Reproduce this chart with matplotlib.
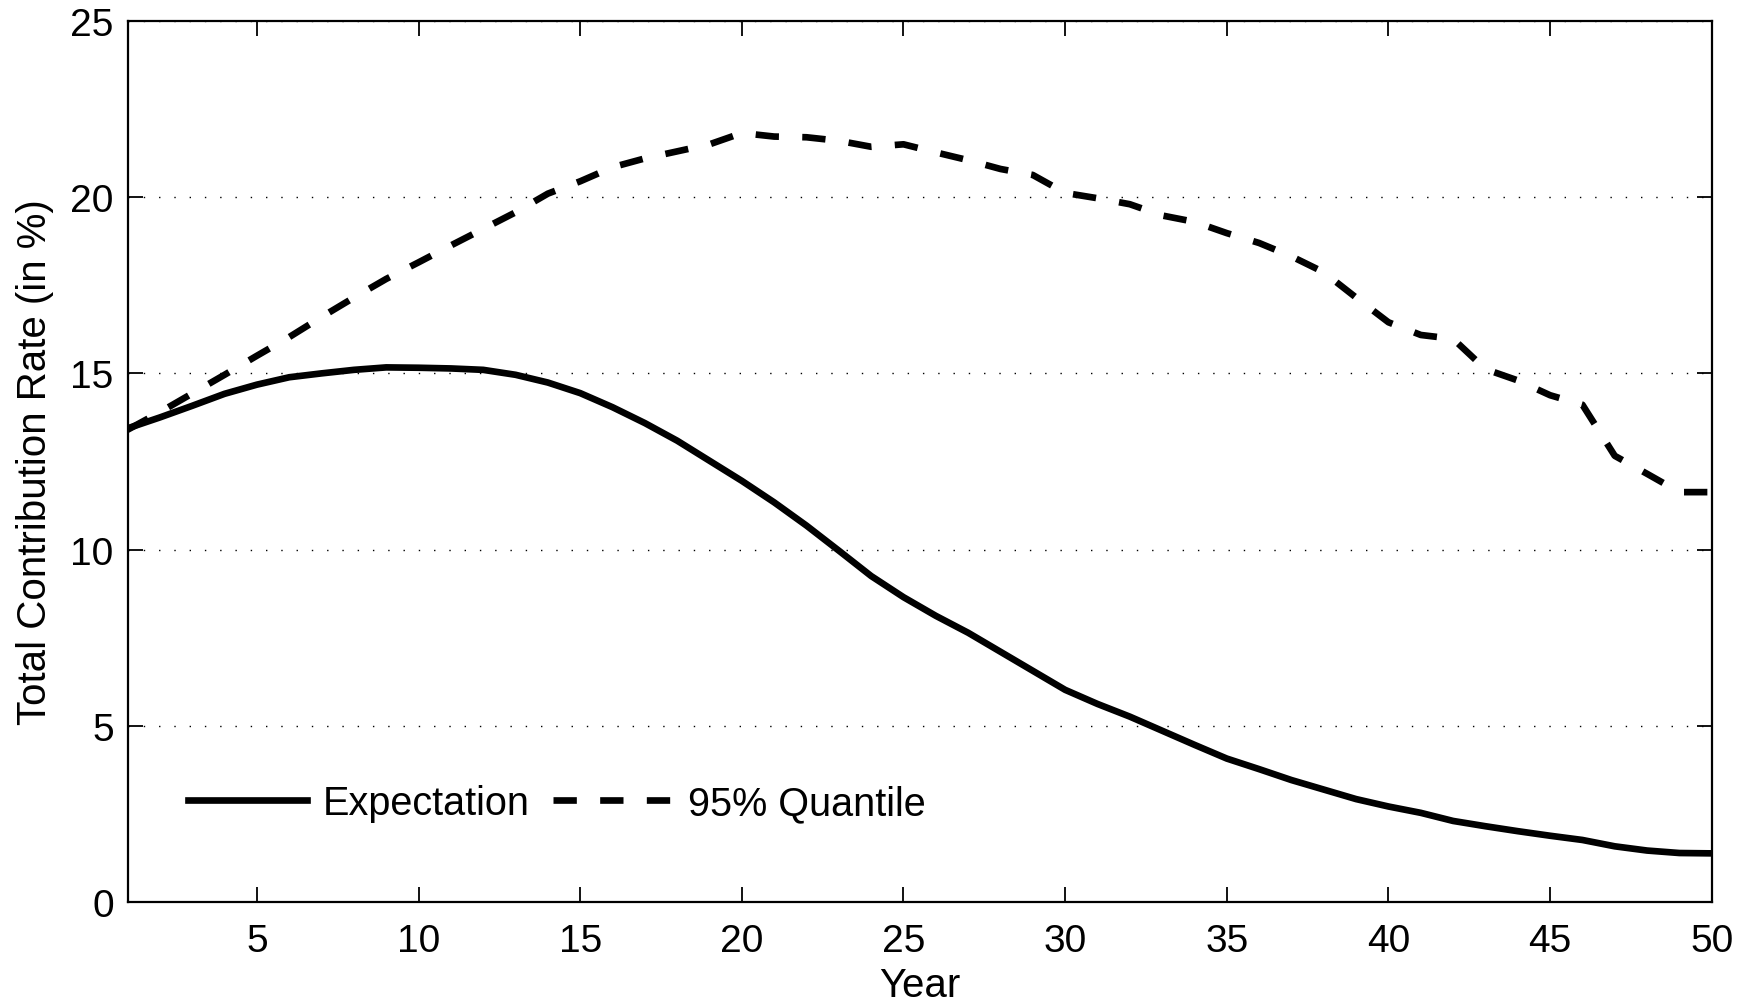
import matplotlib
matplotlib.use("Agg")
import matplotlib.pyplot as plt
import numpy as np

# ── Data ──────────────────────────────────────────────────────────────────────

years = np.arange(1, 51)

expectation = [
    13.44, 13.75, 14.08, 14.42, 14.68, 14.89, 15.00, 15.10, 15.17, 15.16,
    15.14, 15.10, 14.96, 14.74, 14.44, 14.04, 13.59, 13.09, 12.52, 11.95,
    11.34, 10.68, 9.97, 9.25, 8.65, 8.12, 7.64, 7.10, 6.56, 6.02,
    5.62, 5.26, 4.86, 4.46, 4.07, 3.77, 3.46, 3.19, 2.92, 2.71,
    2.53, 2.30, 2.15, 2.01, 1.88, 1.76, 1.58, 1.46, 1.39, 1.38,
]

quantile_95 = [
    13.40, 13.90, 14.43, 14.96, 15.50, 16.03, 16.60, 17.15, 17.68, 18.15,
    18.63, 19.10, 19.57, 20.10, 20.45, 20.85, 21.10, 21.30, 21.50, 21.82,
    21.72, 21.70, 21.60, 21.43, 21.50, 21.27, 21.05, 20.80, 20.63, 20.12,
    19.97, 19.80, 19.48, 19.30, 18.98, 18.70, 18.32, 17.87, 17.15, 16.45,
    16.09, 15.98, 15.12, 14.80, 14.38, 14.11, 12.66, 12.15, 11.63, 11.63,
]

x_ticks = [5, 10, 15, 20, 25, 30, 35, 40, 45, 50]
y_ticks = [0, 5, 10, 15, 20, 25]

# ── Plot ──────────────────────────────────────────────────────────────────────

plt.rcParams["font.family"] = ["Liberation Sans", "DejaVu Sans"]

fig = plt.figure(figsize=(17.38, 10.03), dpi=100)
ax = fig.add_axes([0.0734, 0.0997, 0.9115, 0.8784])

ax.plot(years, expectation, color="black", lw=4.8, solid_joinstyle="round",
        label="Expectation")
ax.plot(years, quantile_95, color="black", lw=4.8, dashes=(3.5, 3.5),
        dash_capstyle="butt", label="95% Quantile")

ax.set_xlim(1, 50)
ax.set_ylim(0, 25)
ax.set_xticks(x_ticks)
ax.set_yticks(y_ticks)

# dotted horizontal grid only (MATLAB style)
ax.yaxis.grid(True, color="black", linestyle=(0, (1, 10)), linewidth=1.0)
ax.set_axisbelow(True)

for spine in ax.spines.values():
    spine.set_linewidth(1.6)

ax.tick_params(axis="both", direction="in", length=11, width=1.3,
               top=True, right=True, labelsize=28)
ax.tick_params(axis="x", pad=15)
ax.tick_params(axis="y", pad=10)

ax.set_xlabel("Year", fontsize=29, labelpad=5)
ax.set_ylabel("Total Contribution Rate (in %)", fontsize=29, labelpad=12)

ax.legend(loc="center left", bbox_to_anchor=(0.038, 0.112), ncol=2,
          frameon=False, fontsize=28.5, handlelength=3.0, handletextpad=0.4,
          columnspacing=0.6, borderpad=0, borderaxespad=0)

fig.savefig("out.png", dpi=100)
